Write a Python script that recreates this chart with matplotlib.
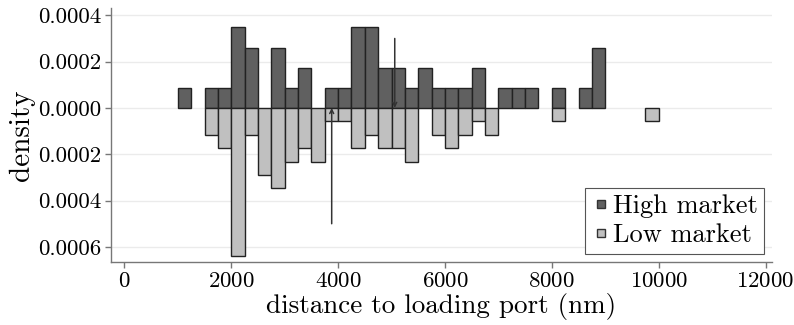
import matplotlib
matplotlib.use("Agg")
import matplotlib.pyplot as plt
import numpy as np
from matplotlib.lines import Line2D
from matplotlib.ticker import FuncFormatter

plt.rcParams['font.family'] = 'serif'
plt.rcParams['font.serif'] = ['cmr10']
plt.rcParams['mathtext.fontset'] = 'cm'
plt.rcParams['axes.unicode_minus'] = False
plt.rcParams['axes.formatter.use_mathtext'] = True

# histogram bins (nm), 250 wide
bin_width = 250
bin_left = np.arange(1000, 10000, bin_width)

# counts per bin
high_counts = [1, 0, 1, 1, 4, 3, 0, 3, 1, 2, 0, 1, 1, 4, 4, 2, 2, 1,
               2, 1, 1, 1, 2, 0, 1, 1, 1, 0, 1, 0, 1, 3, 0, 0, 0, 0]
low_counts = [0, 0, 2, 3, 11, 2, 5, 6, 4, 3, 4, 1, 1, 3, 2, 3, 3, 4,
              0, 2, 3, 2, 1, 2, 0, 0, 0, 0, 1, 0, 0, 0, 0, 0, 0, 1]

# group means (arrows)
high_mean = 5060
low_mean = 3880

high_counts = np.array(high_counts)
low_counts = np.array(low_counts)
high_dens = high_counts / (high_counts.sum() * bin_width)
low_dens = low_counts / (low_counts.sum() * bin_width)

fig = plt.figure(figsize=(7.94, 3.25), dpi=100)
ax = fig.add_axes([0.1398, 0.194, 0.8325, 0.781])

m = high_counts > 0
ax.bar(bin_left[m], high_dens[m], width=bin_width, align='edge',
       color='#606060', edgecolor='#222222', linewidth=1.0, zorder=3)
m = low_counts > 0
ax.bar(bin_left[m], -low_dens[m], width=bin_width, align='edge',
       color='#c0c0c0', edgecolor='#222222', linewidth=1.0, zorder=3)

arrow = dict(arrowstyle='->', color='#333333', lw=1.1, shrinkA=0, shrinkB=0,
             mutation_scale=7)
ax.annotate('', xy=(high_mean, 0), xytext=(high_mean, 0.0003),
            arrowprops=arrow, zorder=5)
ax.annotate('', xy=(low_mean, 0), xytext=(low_mean, -0.0005),
            arrowprops=arrow, zorder=5)

ax.set_xlim(-250, 12120)
ax.set_ylim(-0.000665, 0.000431)
ax.set_xticks(np.arange(0, 12001, 2000))
ax.set_yticks([-0.0006, -0.0004, -0.0002, 0, 0.0002, 0.0004])
ax.yaxis.set_major_formatter(FuncFormatter(lambda v, p: f"{abs(v):.4f}"))

ax.grid(axis='y', color='#ebebeb', linewidth=1.0, zorder=0)
ax.set_axisbelow(True)
for s in ['top', 'right']:
    ax.spines[s].set_visible(False)
for s in ['left', 'bottom']:
    ax.spines[s].set_color('#777777')
    ax.spines[s].set_linewidth(1.0)
ax.tick_params(axis='both', colors='#777777', labelcolor='black',
               labelsize=16.5, length=4, width=1.0, pad=3)

ax.set_xlabel('distance to loading port (nm)', fontsize=19.5, labelpad=1)
ax.set_ylabel('density', fontsize=21, labelpad=2)

handles = [
    Line2D([], [], marker='s', linestyle='none', markersize=5.5,
           markerfacecolor='#606060', markeredgecolor='#333333'),
    Line2D([], [], marker='s', linestyle='none', markersize=5.5,
           markerfacecolor='#c0c0c0', markeredgecolor='#333333'),
]
leg = ax.legend(handles, ['High market', 'Low market'], loc='lower right',
                fontsize=19, frameon=True, fancybox=False, framealpha=1,
                edgecolor='#555555', borderaxespad=0.3, handletextpad=0.1,
                handlelength=0.7, borderpad=0.25, labelspacing=0.2)
leg.get_frame().set_linewidth(0.8)

fig.savefig('out.png', dpi=100)
